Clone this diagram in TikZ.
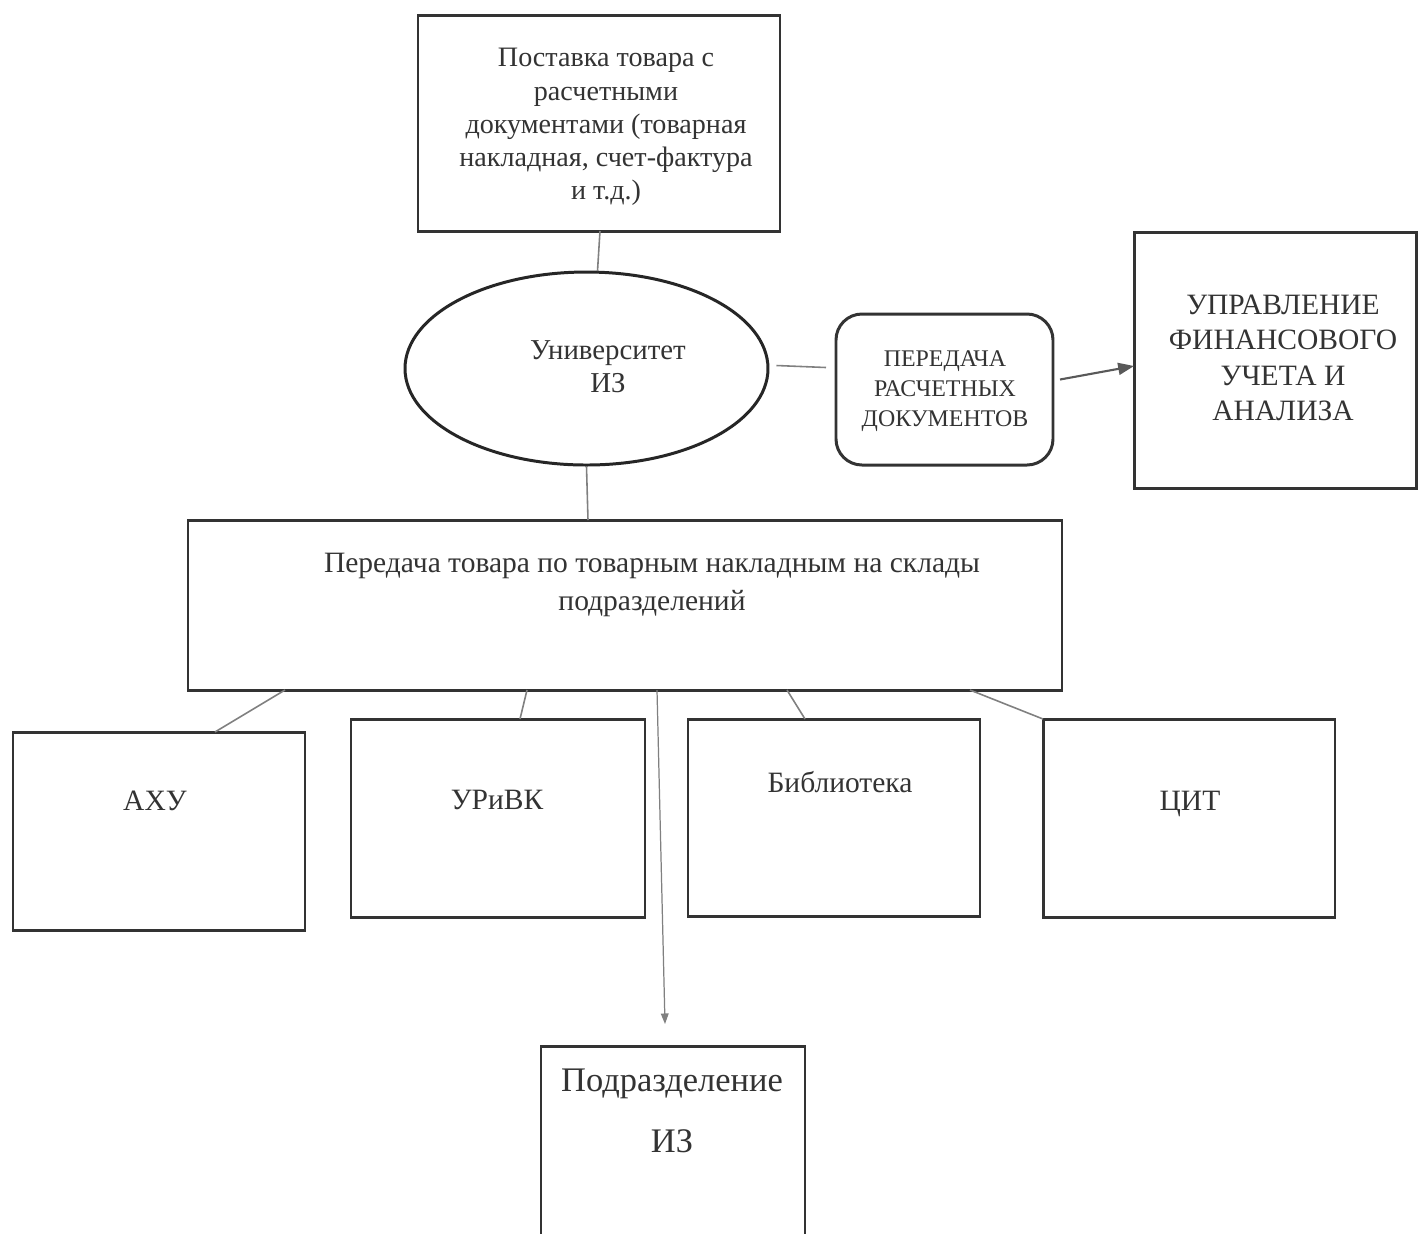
\documentclass[tikz,border=0pt]{standalone}
\usepackage{fontspec}
\setmainfont{Liberation Serif}
\usetikzlibrary{arrows.meta,calc,shapes.geometric}
\begin{document}
\begin{tikzpicture}[x=0.1mm,y=-0.1mm,
  box/.style={draw=black!80,line width=0.85pt,inner sep=0pt,outer sep=0pt,rectangle},
  txt/.style={inner sep=0pt,align=center,text=black!80},
  conn/.style={draw=black!50,line width=0.45pt},
  arr/.style={draw=black!65,line width=0.6pt,-{Triangle[length=4.5pt,width=3.4pt]}},
  thinarr/.style={draw=black!50,line width=0.35pt,-{Triangle[length=3pt,width=2.2pt]}}]
\useasboundingbox (0,0) rectangle (1418,1233);
\fill[white] (0,0) rectangle (1418,1233);

% top box
\node[box,minimum width=36.2mm,minimum height=21.6mm] (top) at (599,123) {};
\node[txt,font=\fontsize{8.0}{9.45}\selectfont] (toptxt) at (606,127)
  {Поставка товара с\\расчетными\\документами (товарная\\накладная, счет-фактура\\и т.д.)};

% ellipse
\node[draw=black!85,line width=0.85pt,ellipse,inner sep=0pt,minimum width=36.3mm,minimum height=19.3mm] (uni) at (586.5,368.5) {};
\node[txt,font=\fontsize{8.2}{9.4}\selectfont] (unitxt) at (608,367) {Университет\\ИЗ};

% rounded box
\node[box,rounded corners=2.6mm,minimum width=21.7mm,minimum height=15.1mm] (pered) at (944.5,389.5) {};
\node[txt,font=\fontsize{6.8}{8.5}\selectfont] (peredtxt) at (945,391) {ПЕРЕДАЧА\\РАСЧЕТНЫХ\\ДОКУМЕНТОВ};

% right box
\node[box,minimum width=28.2mm,minimum height=25.6mm] (ufu) at (1275,360) {};
\node[txt,font=\fontsize{8.4}{10.1}\selectfont] (ufutxt) at (1283,358) {УПРАВЛЕНИЕ\\ФИНАНСОВОГО\\УЧЕТА И\\АНАЛИЗА};

% big box
\node[box,minimum width=87.4mm,minimum height=17mm] (big) at (625,605) {};
\node[txt,font=\fontsize{8.4}{10.8}\selectfont] (bigtxt) at (652,585) {Передача товара по товарным накладным на склады\\подразделений};

% four boxes
\node[box,minimum width=29.2mm,minimum height=19.8mm] (axu) at (159,831) {};
\node[txt,font=\fontsize{8.4}{10}\selectfont] (axutxt) at (155,801) {АХУ};
\node[box,minimum width=29.4mm,minimum height=19.8mm] (urivk) at (498,818) {};
\node[txt,font=\fontsize{8.4}{10}\selectfont] (urivktxt) at (497,800) {УРиВК};
\node[box,minimum width=29.2mm,minimum height=19.7mm] (bib) at (834,817.5) {};
\node[txt,font=\fontsize{8.4}{10}\selectfont] (bibtxt) at (840,782) {Библиотека};
\node[box,minimum width=29.2mm,minimum height=19.8mm] (cit) at (1189,818) {};
\node[txt,font=\fontsize{8.4}{10}\selectfont] (cittxt) at (1190,804) {ЦИТ};

% bottom open box
\node[inner sep=0pt,outer sep=0pt,minimum width=26.4mm,minimum height=19.4mm] (pod) at (673,1143) {};
\draw[draw=black!80,line width=0.85pt] (pod.south west) -- (pod.north west) -- (pod.north east) -- (pod.south east);
\node[txt,font=\fontsize{9.8}{17.5}\selectfont] (podtxt) at (672,1111) {Подразделение\\ИЗ};
\coordinate (podin) at ($(pod.north)+(-8,-22)$);

% connectors
\draw[conn] ($(top.south)+(1,0)$) -- ($(uni.north)+(11,0.5)$);
\draw[conn] (uni.south) -- ($(big.north)+(-37,0)$);
\draw[conn] (uni.east) ++(7,-3) coordinate (ue) -- ($(pered.west)+(-10,-22)$);
\draw[arr] ($(pered.east)+(7,-10)$) -- ($(ufu.west)+(0,6)$);
\draw[conn] ($(big.south west)+(97,0)$) -- ($(axu.north)+(56,0)$);
\draw[conn] ($(big.south west)+(339,0)$) -- ($(urivk.north)+(22,0)$);
\draw[conn] ($(big.south west)+(599,0)$) -- ($(bib.north)+(-29,0)$);
\draw[conn] ($(big.south west)+(782,0)$) -- (cit.north west);
\draw[thinarr] ($(big.south west)+(469,0)$) -- (podin);
\end{tikzpicture}
\end{document}
